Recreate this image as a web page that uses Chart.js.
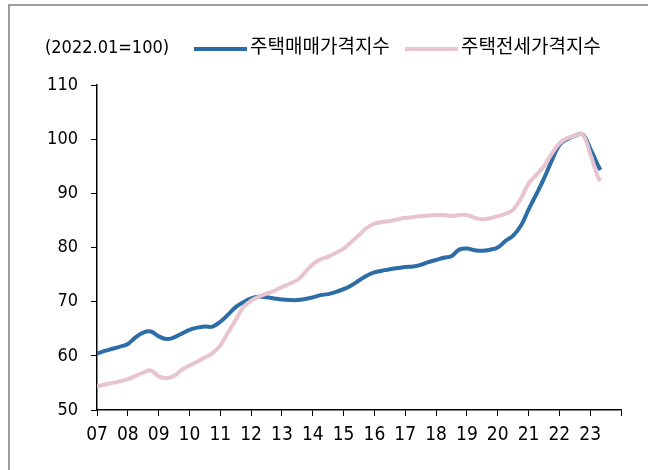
<!DOCTYPE html>
<html>
<head>
<meta charset="utf-8">
<script src="https://cdn.jsdelivr.net/npm/chart.js@4.4.1/dist/chart.umd.min.js"></script>
<style>
  body { margin: 0; background: #fff; }
  #wrap { position: relative; width: 648px; height: 470px; }
  #frame { position: absolute; left: 8px; top: 4px; right: 0; bottom: 0;
           border-top: 2px solid #9c9c9c; border-left: 2px solid #9c9c9c; pointer-events: none; }
</style>
</head>
<body>
<div id="wrap">
  <canvas id="chart" width="648" height="470"></canvas>
  <div id="frame"></div>
</div>
<script>
// quarterly readings (yyyy.mm), last point 2023.05
var periods = [
  "2007.01","2007.04","2007.07","2007.10","2008.01","2008.04","2008.07","2008.10",
  "2009.01","2009.04","2009.07","2009.10","2010.01","2010.04","2010.07","2010.10",
  "2011.01","2011.04","2011.07","2011.10","2012.01","2012.04","2012.07","2012.10",
  "2013.01","2013.04","2013.07","2013.10","2014.01","2014.04","2014.07","2014.10",
  "2015.01","2015.04","2015.07","2015.10","2016.01","2016.04","2016.07","2016.10",
  "2017.01","2017.04","2017.07","2017.10","2018.01","2018.04","2018.07","2018.10",
  "2019.01","2019.04","2019.07","2019.10","2020.01","2020.04","2020.07","2020.10",
  "2021.01","2021.04","2021.07","2021.10","2022.01","2022.04","2022.07","2022.10",
  "2023.01","2023.04","2023.05"
];

var saleIndex = [
  60.4, 60.9, 61.3, 61.7, 62.2, 63.4, 64.3, 64.5,
  63.6, 63.1, 63.4, 64.1, 64.8, 65.2, 65.4, 65.4,
  66.3, 67.6, 69.0, 69.9, 70.6, 70.9, 70.8, 70.6,
  70.4, 70.3, 70.3, 70.5, 70.8, 71.2, 71.4, 71.8,
  72.3, 73.0, 73.9, 74.8, 75.4, 75.7, 76.0, 76.2,
  76.4, 76.5, 76.8, 77.3, 77.7, 78.1, 78.4, 79.6,
  79.8, 79.5, 79.4, 79.6, 80.0, 81.2, 82.2, 84.0,
  87.0, 89.8, 92.7, 96.0, 98.9, 100.0, 100.6, 100.9,
  98.3, 95.2, 94.3
];

var jeonseIndex = [
  54.3, 54.7, 55.0, 55.3, 55.7, 56.3, 56.9, 57.3,
  56.2, 55.9, 56.3, 57.4, 58.2, 58.9, 59.7, 60.5,
  61.9, 64.3, 66.6, 69.0, 70.2, 70.9, 71.5, 72.0,
  72.7, 73.3, 74.0, 75.4, 76.9, 77.8, 78.3, 79.0,
  79.8, 81.0, 82.3, 83.6, 84.4, 84.7, 84.9, 85.2,
  85.5, 85.6, 85.8, 85.9, 86.0, 86.0, 85.8, 86.0,
  86.0, 85.5, 85.2, 85.4, 85.8, 86.2, 87.0, 89.0,
  91.8, 93.4, 95.0, 97.3, 99.2, 100.2, 100.6, 100.9,
  97.3, 93.0, 92.3
];

var yearTicks = ["07","08","09","10","11","12","13","14","15","16","17","18","19","20","21","22","23"];
var unitLabel = "(2022.01=100)";
var seriesNames = ["주택매매가격지수", "주택전세가격지수"];

function toX(p) {
  var parts = p.split(".");
  return Number(parts[0]) + (Number(parts[1]) - 1) / 12;
}
function points(values) {
  return values.map(function (v, i) { return { x: toX(periods[i]), y: v }; });
}

var labelFont = "'DejaVu Sans Condensed', 'Noto Sans CJK KR', sans-serif";

// unit text + legend drawn on one row like the original
var headerPlugin = {
  id: "header",
  afterDraw: function (chart) {
    var ctx = chart.ctx;
    ctx.save();
    ctx.font = "18px " + labelFont;
    ctx.fillStyle = "#000";
    ctx.textBaseline = "middle";
    ctx.fillText(unitLabel, 45, 48);
    var starts = [194, 405];
    chart.data.datasets.forEach(function (ds, i) {
      var x = starts[i];
      ctx.strokeStyle = ds.borderColor;
      ctx.lineWidth = 4;
      ctx.beginPath();
      ctx.moveTo(x, 49);
      ctx.lineTo(x + 53, 49);
      ctx.stroke();
      ctx.font = "19px " + labelFont;
      ctx.fillText(ds.label, x + 56, 48);
    });
    ctx.restore();
  }
};

var ctx = document.getElementById("chart").getContext("2d");

var chart = new Chart(ctx, {
  type: "line",
  data: {
    datasets: [
      {
        label: seriesNames[0],
        data: points(saleIndex),
        borderColor: "#2c6ca7",
        borderWidth: 4,
        tension: 0.4,
        order: 2,
      },
      {
        label: seriesNames[1],
        data: points(jeonseIndex),
        borderColor: "#e8c4d0",
        borderWidth: 4,
        tension: 0.4,
        order: 1,
      },
    ],
  },
  options: {
    responsive: false,
    animation: false,
    layout: { padding: { left: 0, right: 27, top: 85, bottom: 0 } },
    elements: { point: { radius: 0 } },
    plugins: {
      legend: { display: false },
      tooltip: { enabled: false },
    },
    scales: {
      x: {
        type: "linear",
        min: 2007,
        max: 2024,
        afterFit: function (s) { s.height = 60; },
        afterBuildTicks: function (s) {
          var t = [];
          for (var y = 2007; y <= 2024; y++) t.push({ value: y });
          s.ticks = t;
        },
        grid: { drawOnChartArea: false, tickLength: 6, color: "#000" },
        border: { color: "#000", width: 1.5 },
        ticks: {
          color: "#000",
          padding: 8,
          maxRotation: 0,
          autoSkip: false,
          font: { family: labelFont, size: 19 },
          callback: function (v) { return yearTicks[v - 2007] || ""; },
        },
      },
      y: {
        min: 50,
        max: 110,
        afterFit: function (s) { s.width = 97; },
        grid: { drawOnChartArea: false, tickLength: 6, color: "#000" },
        border: { color: "#000", width: 1.5 },
        ticks: {
          stepSize: 10,
          color: "#000",
          padding: 13,
          font: { family: labelFont, size: 18 },
        },
      },
    },
  },
  plugins: [headerPlugin],
});
</script>
</body>
</html>
